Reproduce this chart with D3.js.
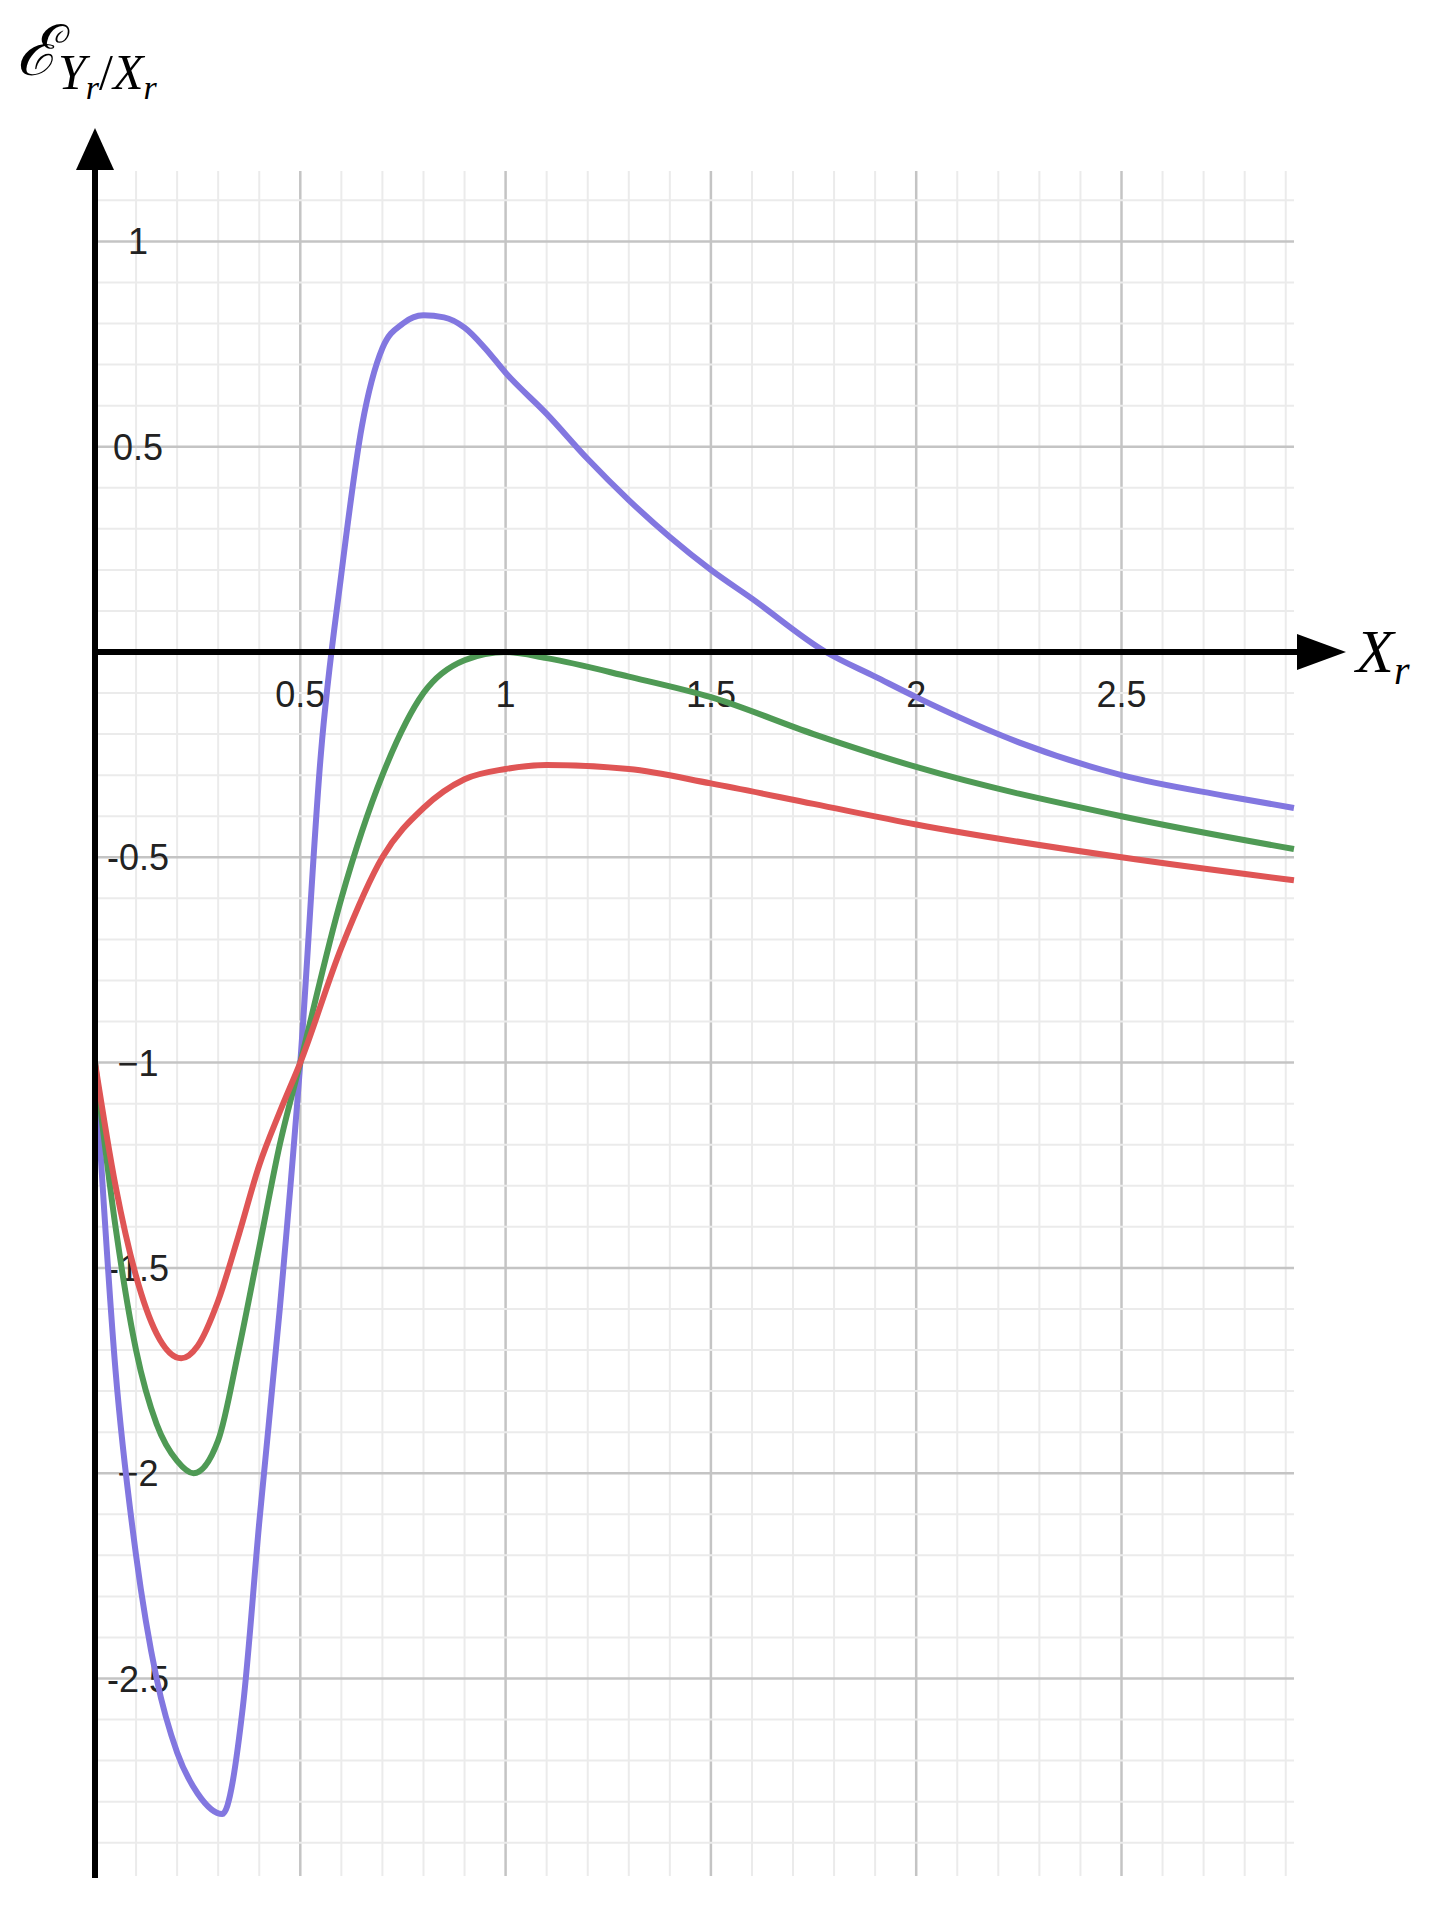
<!DOCTYPE html>
<html><head><meta charset="utf-8">
<script src="https://cdn.jsdelivr.net/npm/d3@7"></script>
<style>body{margin:0;background:#fff}</style></head>
<body><svg id="c" width="1450" height="1905"></svg>
<script>
const xTicks=[0.5,1,1.5,2,2.5];
const xTickLabels=["0.5","1","1.5","2","2.5"];
const yTicks=[1,0.5,-0.5,-1,-1.5,-2,-2.5];
const yTickLabels=["1","0.5","-0.5","−1","-1.5","−2","-2.5"];
const blueX=[0,0.05,0.1,0.15,0.2,0.25,0.31,0.36,0.4,0.45,0.5,0.55,0.6,0.65,0.7,0.75,0.8,0.85,0.9,0.95,1.0,1.1,1.2,1.3,1.4,1.5,1.6,1.78,1.9,2.0,2.25,2.5,2.75,2.92];
const blueY=[-1,-1.75,-2.2,-2.5,-2.68,-2.78,-2.83,-2.57,-2.12,-1.6,-1,-0.25,0.19,0.55,0.74,0.8,0.82,0.815,0.79,0.74,0.68,0.58,0.47,0.37,0.28,0.2,0.13,0,-0.06,-0.11,-0.22,-0.3,-0.35,-0.38];
const greenX=[0,0.05,0.1,0.15,0.2,0.24,0.3,0.35,0.4,0.45,0.5,0.6,0.7,0.8,0.9,1.0,1.1,1.3,1.5,1.75,2.0,2.5,2.92];
const greenY=[-1,-1.4,-1.7,-1.88,-1.97,-2.0,-1.92,-1.7,-1.45,-1.2,-1,-0.6,-0.3,-0.1,-0.02,0,-0.015,-0.06,-0.11,-0.2,-0.28,-0.40,-0.48];
const redX=[0,0.05,0.1,0.15,0.21,0.25,0.3,0.35,0.4,0.45,0.5,0.6,0.7,0.8,0.9,1.0,1.1,1.3,1.5,1.75,2.0,2.5,2.92];
const redY=[-1,-1.3,-1.52,-1.66,-1.72,-1.69,-1.58,-1.42,-1.25,-1.12,-1,-0.72,-0.5,-0.38,-0.31,-0.285,-0.275,-0.285,-0.32,-0.37,-0.42,-0.5,-0.556];

const svg=d3.select("#c");
const x=d3.scaleLinear().domain([0,1]).range([95,505.6]);
const y=d3.scaleLinear().domain([0,1]).range([652,241.4]);
const xmax=x.invert(1294), ymin=y.invert(1876), ymax=y.invert(171);
const g=svg.append("g");
d3.range(1,Math.floor(xmax*10)+1).forEach(i=>{const v=i/10;
 g.append("line").attr("x1",x(v)).attr("x2",x(v)).attr("y1",171).attr("y2",1876).attr("stroke",i%5?"#ebebeb":"#c4c4c4").attr("stroke-width",i%5?2:2.5);});
d3.range(Math.ceil(ymin*10),Math.floor(ymax*10)+1).forEach(i=>{if(i===0)return;const v=i/10;
 g.append("line").attr("y1",y(v)).attr("y2",y(v)).attr("x1",95).attr("x2",1294).attr("stroke",i%5?"#ebebeb":"#c4c4c4").attr("stroke-width",i%5?2:2.5);});
const ff="'Liberation Sans',Arial,sans-serif";
xTicks.forEach((v,i)=>g.append("text").attr("x",x(v)).attr("y",707).attr("text-anchor","middle")
 .attr("font-family",ff).attr("font-size",36).attr("fill","#222").text(xTickLabels[i]));
yTicks.forEach((v,i)=>g.append("text").attr("x",138).attr("y",y(v)+13).attr("text-anchor","middle")
 .attr("font-family",ff).attr("font-size",36).attr("fill","#222").text(yTickLabels[i]));
const line=d3.line().x(d=>x(d[0])).y(d=>y(d[1])).curve(d3.curveMonotoneX);
[[blueX,blueY,"#8277e0"],[greenX,greenY,"#4f9a55"],[redX,redY,"#df5555"]].forEach(([xs,ys,c])=>{
 svg.append("path").attr("d",line(xs.map((v,i)=>[v,ys[i]]))).attr("fill","none").attr("stroke",c).attr("stroke-width",6).attr("stroke-linejoin","round");});
svg.append("line").attr("x1",x(0)).attr("x2",x(0)).attr("y1",1878).attr("y2",165).attr("stroke","#000").attr("stroke-width",6);
svg.append("path").attr("d",`M${x(0)},128 L${x(0)-19},170 L${x(0)+19},170Z`).attr("fill","#000");
svg.append("line").attr("x1",x(0)).attr("x2",1305).attr("y1",y(0)).attr("y2",y(0)).attr("stroke","#000").attr("stroke-width",6);
svg.append("path").attr("d",`M1346,${y(0)} L1297,${y(0)-18} L1297,${y(0)+18}Z`).attr("fill","#000");
const sf="'Liberation Serif','DejaVu Serif',serif";
const t1=svg.append("text").attr("x",1356).attr("y",672).attr("font-family",sf).attr("font-style","italic").attr("font-size",62);
t1.append("tspan").text("X");t1.append("tspan").attr("font-size",40).attr("dy",12).text("r");
const t2=svg.append("text").attr("x",16).attr("y",75).attr("font-family",sf).attr("font-style","italic").attr("font-size",70);
t2.append("tspan").text("ℰ");
t2.append("tspan").attr("font-size",50).attr("dy",14).text("Y");
t2.append("tspan").attr("font-size",34).attr("dy",10).text("r");
t2.append("tspan").attr("font-size",50).attr("dy",-10).attr("font-style","normal").text("/");
t2.append("tspan").attr("font-size",50).text("X");
t2.append("tspan").attr("font-size",34).attr("dy",10).text("r");
</script></body></html>
